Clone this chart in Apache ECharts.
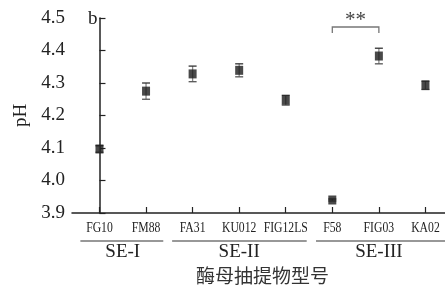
<!DOCTYPE html>
<html>
<head>
<meta charset="utf-8">
<script src="https://cdn.jsdelivr.net/npm/echarts@6/dist/echarts.min.js"></script>
<style>
html,body{margin:0;padding:0;background:#fff;}
#main{width:445px;height:288px;}
</style>
</head>
<body>
<div id="main"></div>
<script>
// 菌株名称
var strains = ['FG10', 'FM88', 'FA31', 'KU012', 'FIG12LS', 'F58', 'FIG03', 'KA02'];
// pH 均值
var phMean = [4.097, 4.275, 4.328, 4.339, 4.247, 3.940, 4.383, 4.293];
// 标准差
var phErr = [0.010, 0.025, 0.024, 0.020, 0.015, 0.003, 0.024, 0.013];
// 分组
var groupNames = ['SE-I', 'SE-II', 'SE-III'];
var groupFrom = [-0.41, 1.56, 4.65];
var groupTo = [1.37, 4.45, 7.42];
var groupMid = [0.5, 3, 6];

var serif = '"Liberation Serif", "Times New Roman", serif';
var chart = echarts.init(document.getElementById('main'));

var pts = [], errs = [];
for (var i = 0; i < strains.length; i++) {
    pts.push([i, phMean[i]]);
    errs.push([i, phMean[i] - phErr[i], phMean[i] + phErr[i]]);
}

chart.setOption({
    animation: false,
    grid: {left: 72, right: 0, top: 18, bottom: 75, containLabel: false},
    xAxis: {
        type: 'value', min: -0.59, max: 7.42,
        axisLine: {show: true, lineStyle: {color: '#222', width: 1.5}},
        axisTick: {show: true, inside: true, length: 6, customValues: [0, 1, 2, 3, 4, 5, 6, 7],
            lineStyle: {color: '#222', width: 1.2}},
        axisLabel: {show: false},
        splitLine: {show: false}
    },
    yAxis: {
        type: 'value', min: 3.9, max: 4.5, interval: 0.1,
        name: 'pH', nameLocation: 'middle', nameGap: 40,
        nameTextStyle: {fontFamily: serif, fontSize: 19, color: '#222'},
        axisLine: {show: true, lineStyle: {color: '#222', width: 1.5}},
        axisTick: {show: true, inside: true, length: 6, lineStyle: {color: '#222', width: 1.2}},
        axisLabel: {margin: 7, fontFamily: serif, fontSize: 19, color: '#222',
            formatter: function (v) { return v.toFixed(1); }},
        splitLine: {show: false}
    },
    series: [
        {
            type: 'custom',
            data: errs,
            z: 1,
            renderItem: function (params, api) {
                var lo = api.coord([api.value(0), api.value(1)]);
                var hi = api.coord([api.value(0), api.value(2)]);
                var w = 4;
                return {
                    type: 'group',
                    children: [
                        {type: 'line', shape: {x1: lo[0], y1: lo[1], x2: hi[0], y2: hi[1]},
                            style: {stroke: '#888', lineWidth: 1.3}},
                        {type: 'line', shape: {x1: lo[0] - w, y1: lo[1], x2: lo[0] + w, y2: lo[1]},
                            style: {stroke: '#555', lineWidth: 1.3}},
                        {type: 'line', shape: {x1: hi[0] - w, y1: hi[1], x2: hi[0] + w, y2: hi[1]},
                            style: {stroke: '#333', lineWidth: 1.3}}
                    ]
                };
            }
        },
        {
            type: 'scatter',
            data: pts,
            z: 3,
            symbol: 'rect',
            symbolSize: [8, 9],
            itemStyle: {color: '#1c1c1c'}
        }
    ]
});

// 横轴标签（窄体）、分组标注、显著性标记
var g = [];
var yBase = chart.convertToPixel({gridIndex: 0}, [0, 3.9])[1];
for (var j = 0; j < strains.length; j++) {
    var cx = chart.convertToPixel({gridIndex: 0}, [j, 3.9])[0];
    g.push({type: 'text', x: cx, y: yBase + 15, scaleX: 0.78,
        style: {text: strains[j], font: '15px ' + serif, fill: '#222', align: 'center', verticalAlign: 'middle'}});
}
for (var k = 0; k < groupNames.length; k++) {
    var a = chart.convertToPixel({gridIndex: 0}, [groupFrom[k], 3.9])[0];
    var b = chart.convertToPixel({gridIndex: 0}, [groupTo[k], 3.9])[0];
    var m = chart.convertToPixel({gridIndex: 0}, [groupMid[k], 3.9])[0];
    g.push({type: 'line', shape: {x1: a, y1: yBase + 28, x2: b, y2: yBase + 28},
        style: {stroke: '#333', lineWidth: 1.2}});
    g.push({type: 'text', x: m, y: yBase + 39,
        style: {text: groupNames[k], font: '19px ' + serif, fill: '#222', align: 'center', verticalAlign: 'middle'}});
}
var axisMid = chart.convertToPixel({gridIndex: 0}, [3.5, 3.9])[0];
g.push({type: 'text', x: axisMid, y: yBase + 63,
    style: {text: '酶母抽提物型号', font: '19px "Noto Sans CJK SC", sans-serif', fill: '#333',
        align: 'center', verticalAlign: 'middle'}});
var topY = chart.convertToPixel({gridIndex: 0}, [0, 4.5])[1];
var axisX = chart.convertToPixel({gridIndex: 0}, [-0.59, 4.5])[0];
g.push({type: 'text', x: axisX + 16, y: topY + 1,
    style: {text: 'b', font: '19px ' + serif, fill: '#222', align: 'left', verticalAlign: 'middle'}});
var p1 = chart.convertToPixel({gridIndex: 0}, [5, 4.5])[0];
var p2 = chart.convertToPixel({gridIndex: 0}, [6, 4.5])[0];
g.push({type: 'polyline', shape: {points: [[p1, topY + 15], [p1, topY + 9], [p2, topY + 9], [p2, topY + 15]]},
    style: {stroke: '#777', lineWidth: 1.3, fill: null}});
g.push({type: 'text', x: (p1 + p2) / 2, y: topY + 2,
    style: {text: '**', font: '21px ' + serif, fill: '#444', align: 'center', verticalAlign: 'middle'}});
chart.setOption({graphic: g});
</script>
</body>
</html>
